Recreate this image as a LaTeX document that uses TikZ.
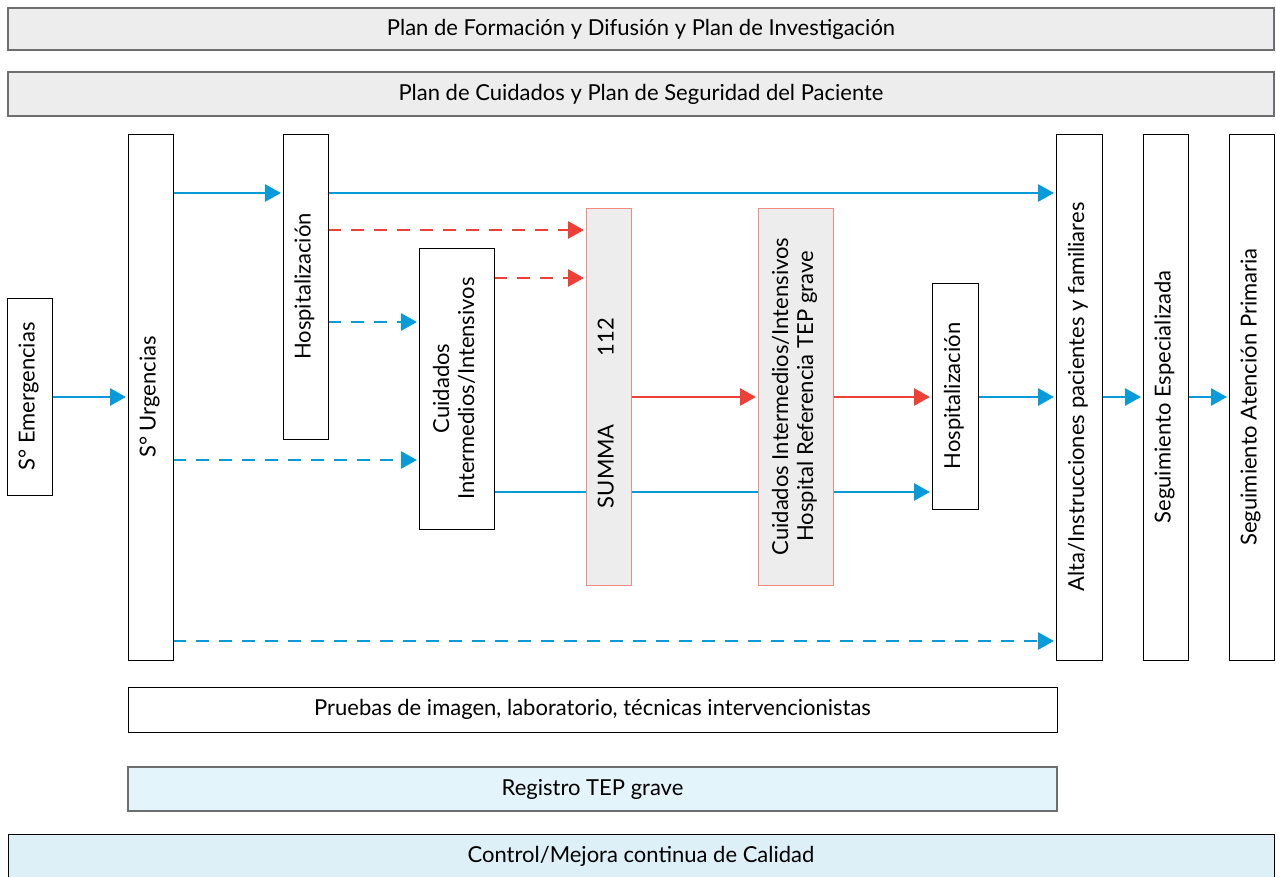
\documentclass[tikz,border=0pt]{standalone}
\usepackage{fontspec}
\setmainfont{Lato}
\usetikzlibrary{arrows.meta}
\definecolor{flowblue}{HTML}{079CD9}
\definecolor{flowred}{HTML}{EE4036}
\definecolor{planfill}{HTML}{EDEDED}
\definecolor{planline}{HTML}{6D6E70}
\definecolor{regfill}{HTML}{E4F4FB}
\definecolor{ctrlfill}{HTML}{DDF0F8}
\definecolor{redline}{HTML}{F28B82}
\pgfdeclarelayer{background}
\pgfsetlayers{background,main}
% place a box by its corners (in px-like units), text given already rotated if needed
\newcommand{\placebox}[7]{%
  \node[#6, anchor=north west, minimum width={(#4-#2)*1pt}, minimum height={(#5-#3)*1pt}]
    (#1) at (#2,#3) {#7};}
\newcommand{\vtext}[1]{\rotatebox{90}{\begin{tabular}{@{}c@{}}#1\end{tabular}}}
\begin{document}
\begin{tikzpicture}[x=1pt, y=-1pt,
  every node/.style={font=\fontsize{22}{25}\selectfont, inner sep=0pt, outer sep=0pt},
  planbox/.style={draw=planline, fill=planfill, line width=1.3pt},
  whitebox/.style={draw=black, fill=white, line width=0.9pt},
  redbox/.style={draw=redline, fill=planfill, line width=0.9pt},
  regbox/.style={draw=planline, fill=regfill, line width=1.3pt},
  ctrlbox/.style={draw=black, fill=ctrlfill, line width=1pt},
  flow/.style={line width=2.8pt, shorten >=2pt, -{Triangle[length=16pt,width=17pt]}},
  blueflow/.style={flow, draw=flowblue, color=flowblue},
  redflow/.style={flow, draw=flowred, color=flowred},
  dashflow/.style={dash pattern=on 13pt off 10pt}
]
\useasboundingbox (0,0) rectangle (1276,877);
\clip (0,0) rectangle (1276,877);

% horizontal bands
\placebox{formacion}{8}{8}{1274}{50}{planbox}{Plan de Formación y Difusión y Plan de Investigación}
\placebox{cuidados}{8}{72}{1274}{116}{planbox}{Plan de Cuidados y Plan de Seguridad del Paciente}
\placebox{pruebas}{128}{687}{1057}{732}{whitebox}{Pruebas de imagen, laboratorio, técnicas intervencionistas}
\placebox{registro}{128}{767}{1057}{811}{regbox}{Registro TEP grave}
\placebox{control}{8}{834}{1274}{900}{ctrlbox}{}
\node at (641,856) {Control/Mejora continua de Calidad};

% vertical stages
\placebox{emerg}{7}{298}{52}{495}{whitebox}{\vtext{S° Emergencias}}
\placebox{urg}{128}{134}{173}{660}{whitebox}{\vtext{S° Urgencias}}
\placebox{hospA}{283}{134}{328}{439}{whitebox}{\vtext{Hospitalización}}
\placebox{uci}{419}{248}{494}{529}{whitebox}{\vtext{Cuidados\\Intermedios/Intensivos}}
\placebox{summa}{586}{208}{631}{585}{redbox}{}
\node at (608.5,413) {\vtext{SUMMA\hspace{68pt}112}};
\placebox{ref}{758}{208}{833}{585}{redbox}{\vtext{Cuidados Intermedios/Intensivos\\Hospital Referencia TEP grave}}
\placebox{hospB}{932}{283}{978}{509}{whitebox}{\vtext{Hospitalización}}
\placebox{alta}{1056}{134}{1102}{660}{whitebox}{\vtext{Alta/Instrucciones pacientes y familiares}}
\placebox{segesp}{1143}{134}{1188}{660}{whitebox}{\vtext{Seguimiento Especializada}}
\placebox{segap}{1229}{134}{1274}{660}{whitebox}{\vtext{Seguimiento Atención Primaria}}

% rows used by the connectors
\coordinate (r193) at (0,193);
\coordinate (r230) at (0,230);
\coordinate (r278) at (0,278);
\coordinate (r322) at (0,322);
\coordinate (r397) at (0,397);
\coordinate (r460) at (0,460);
\coordinate (r492) at (0,492);
\coordinate (r641) at (0,641);

\begin{pgfonlayer}{background}
\draw[blueflow] (emerg.east |- r397) -- (urg.west |- r397);
\draw[blueflow] (urg.east |- r193) -- (hospA.west |- r193);
\draw[blueflow] (hospA.east |- r193) -- (alta.west |- r193);
\draw[redflow, dashflow] (hospA.east |- r230) -- (summa.west |- r230);
\draw[redflow, dashflow] (uci.east |- r278) -- (summa.west |- r278);
\draw[blueflow, dashflow] (hospA.east |- r322) -- (uci.west |- r322);
\draw[blueflow, dashflow] (urg.east |- r460) -- (uci.west |- r460);
\draw[blueflow] (uci.east |- r492) -- (hospB.west |- r492);
\draw[redflow] (summa.east |- r397) -- (ref.west |- r397);
\draw[redflow] (ref.east |- r397) -- (hospB.west |- r397);
\draw[blueflow] (hospB.east |- r397) -- (alta.west |- r397);
\draw[blueflow] (alta.east |- r397) -- (segesp.west |- r397);
\draw[blueflow] (segesp.east |- r397) -- (segap.west |- r397);
\draw[blueflow, dashflow] (urg.east |- r641) -- (alta.west |- r641);
\end{pgfonlayer}
\end{tikzpicture}
\end{document}
